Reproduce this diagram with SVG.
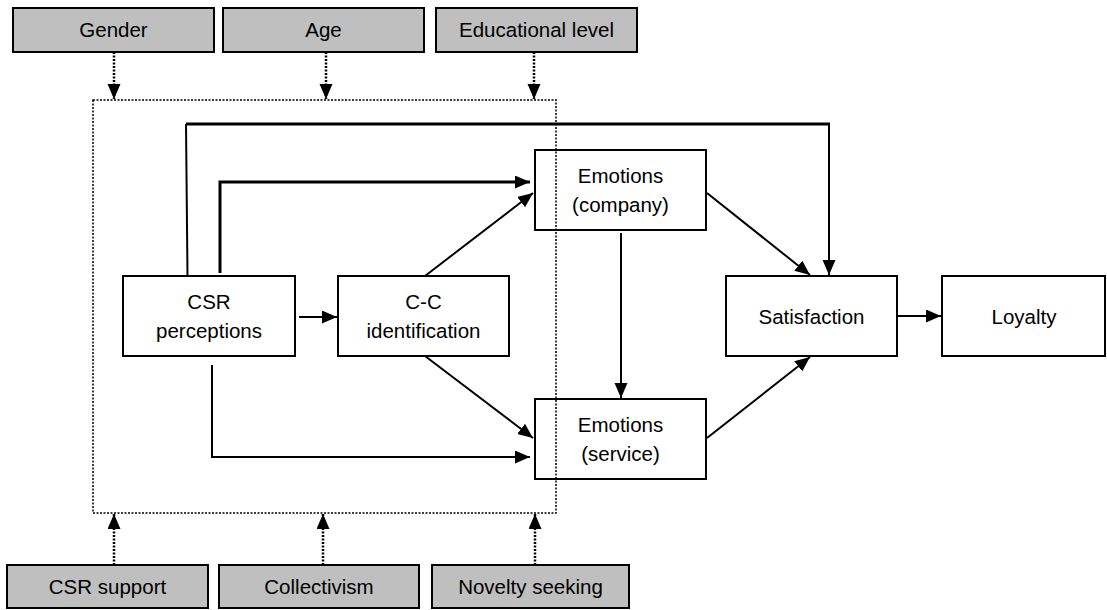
<svg xmlns="http://www.w3.org/2000/svg" width="1107" height="610" viewBox="0 0 1107 610">
<style>
.box{fill:#fff;stroke:#000;stroke-width:2}
.gbox{fill:#bfbfbf;stroke:#000;stroke-width:2}
text{font-family:"Liberation Sans",Arial,sans-serif;font-size:20.5px;fill:#000;text-anchor:middle}
.ln{fill:none;stroke:#000;stroke-width:2}
.thick{fill:none;stroke:#000;stroke-width:3}
.dot{fill:none;stroke:#000;stroke-width:2.5;stroke-dasharray:2 1.5}
.frame{fill:none;stroke:#000;stroke-width:1.5;stroke-dasharray:2 1.5}
</style>
<defs>
<marker id="ah" markerUnits="userSpaceOnUse" markerWidth="16" markerHeight="14" refX="15" refY="6.5" orient="auto">
<path d="M0,0 L15,6.5 L0,13 z" fill="#000"/>
</marker>
</defs>
<g id="nodes">
<g id="gender"><rect class="gbox" x="13" y="8" width="201" height="44"/><text x="113.5" y="37">Gender</text></g>
<g id="age"><rect class="gbox" x="223" y="8" width="201" height="44"/><text x="323.5" y="37">Age</text></g>
<g id="edu"><rect class="gbox" x="436" y="8" width="201" height="44"/><text x="536.5" y="37">Educational level</text></g>
<g id="csrsupport"><rect class="gbox" x="7" y="565" width="201" height="43"/><text x="107.5" y="594">CSR support</text></g>
<g id="collectivism"><rect class="gbox" x="219" y="565" width="200" height="43"/><text x="319" y="594">Collectivism</text></g>
<g id="novelty"><rect class="gbox" x="432" y="565" width="197" height="43"/><text x="530.5" y="594">Novelty seeking</text></g>
<g id="csrperc"><rect class="box" x="123" y="276" width="172" height="80"/><text x="209" y="309">CSR</text><text x="209" y="338">perceptions</text></g>
<g id="ccid"><rect class="box" x="338" y="276" width="171" height="80"/><text x="423.5" y="309">C-C</text><text x="423.5" y="338">identification</text></g>
<g id="emocomp"><rect class="box" x="535" y="150" width="171" height="80"/><text x="620.5" y="183">Emotions</text><text x="620.5" y="212">(company)</text></g>
<g id="emoserv"><rect class="box" x="535" y="399" width="171" height="80"/><text x="620.5" y="432">Emotions</text><text x="620.5" y="461">(service)</text></g>
<g id="satisfaction"><rect class="box" x="726" y="276" width="171" height="80"/><text x="811.5" y="323.5">Satisfaction</text></g>
<g id="loyalty"><rect class="box" x="942" y="276" width="163" height="80"/><text x="1024" y="323.5">Loyalty</text></g>
</g>
<g id="moderator-frame">
<rect class="frame" x="93" y="100" width="463" height="413"/>
</g>
<g id="connectors">
<line class="dot" x1="114" y1="52" x2="114" y2="99" marker-end="url(#ah)"/>
<line class="dot" x1="326" y1="52" x2="326" y2="99" marker-end="url(#ah)"/>
<line class="dot" x1="534" y1="52" x2="534" y2="99" marker-end="url(#ah)"/>
<line class="dot" x1="114" y1="565" x2="114" y2="514" marker-end="url(#ah)"/>
<line class="dot" x1="323" y1="565" x2="323" y2="514" marker-end="url(#ah)"/>
<line class="dot" x1="535" y1="565" x2="535" y2="514" marker-end="url(#ah)"/>
<path class="ln" d="M187.5,276 L186,124"/>
<line class="thick" x1="186" y1="124" x2="830" y2="124"/>
<path class="ln" d="M829,124 L829,275" marker-end="url(#ah)"/>
<path class="thick" d="M220,273 L220,182 L530,182" marker-end="url(#ah)"/>
<line class="ln" x1="299" y1="317" x2="337" y2="317" marker-end="url(#ah)"/>
<line class="ln" x1="425" y1="276" x2="533" y2="193" marker-end="url(#ah)"/>
<line class="ln" x1="425" y1="356" x2="533" y2="438" marker-end="url(#ah)"/>
<path class="ln" d="M212,365 L212,457 L530,457" marker-end="url(#ah)"/>
<line class="ln" x1="621" y1="233" x2="621" y2="398" marker-end="url(#ah)"/>
<line class="ln" x1="707" y1="193" x2="810" y2="275" marker-end="url(#ah)"/>
<line class="ln" x1="707" y1="438" x2="810" y2="357" marker-end="url(#ah)"/>
<line class="ln" x1="897" y1="316" x2="941" y2="316" marker-end="url(#ah)"/>
</g>
</svg>
